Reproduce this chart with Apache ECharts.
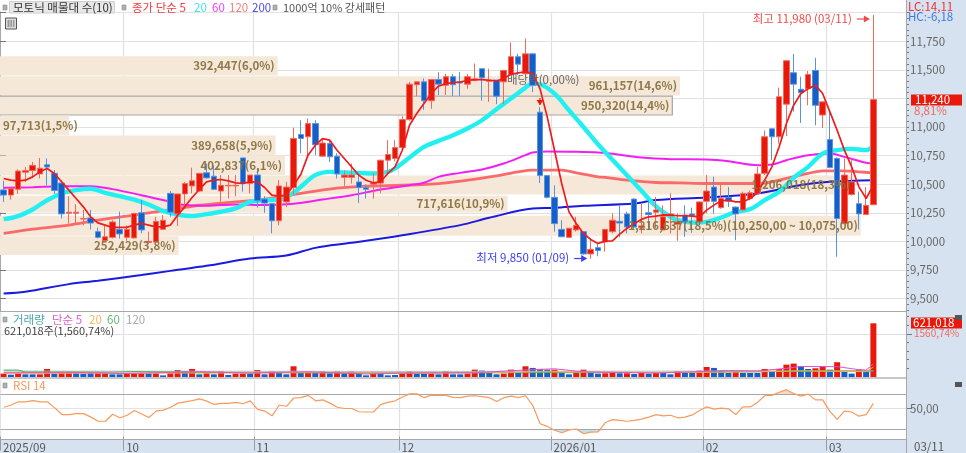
<!DOCTYPE html>
<html><head><meta charset="utf-8">
<style>html,body{margin:0;padding:0;background:#fff}#c{width:966px;height:453px}</style>
<script src="https://cdn.jsdelivr.net/npm/echarts@6/dist/echarts.min.js"></script>
</head><body><div id="c"></div>
<script>
const opens=[10450,10405,10455,10605,10620,10590,10670,10595,10510,10245,
10245,10195,10205,10085,10005,10035,10105,10035,10030,10250,
9990,9995,10105,10420,10240,10415,10485,10440,10600,10570,
10440,10485,10485,10730,10505,10580,10370,10330,10180,10345,
10470,10935,10915,11030,10745,10855,10745,10560,10560,10520,
10470,10500,10510,10710,10725,10820,11065,11370,11395,11230,
11415,11365,11440,11395,11375,11410,11510,11400,11410,11395,
11455,11615,11465,11640,11130,10575,10385,10105,10035,10100,
10085,9890,9945,9995,10085,10175,10240,10370,10120,10250,
10255,10100,10225,10150,10230,10240,10170,10350,10475,10295,
10385,10300,10275,10375,10420,10595,10985,10915,11200,11475,
11330,11335,11495,11105,10890,10725,10155,10410,10330,10235,10320];
const closes=[10405,10460,10615,10620,10665,10640,10650,10445,10240,10255,
10255,10200,10160,10035,10040,10170,10065,10105,10245,10100,
10000,10175,10185,10255,10415,10505,10530,10595,10555,10455,
10490,10490,10490,10505,10580,10355,10335,10180,10485,10475,
10900,10900,11030,10845,10860,10740,10590,10580,10580,10470,
10455,10510,10710,10760,10820,11065,11375,11395,11230,11415,
11375,11440,11370,11385,11440,11420,11430,11410,11270,11495,
11615,11550,11640,11365,10575,10385,10155,10040,10115,10140,
9890,9930,9920,10105,10185,10160,10125,10125,10135,10235,
10275,10215,10240,10170,10170,10225,10345,10440,10350,10375,
10350,10240,10420,10425,10590,10915,10915,11265,11580,11375,
11300,11460,11190,11220,10645,10200,10580,10520,10240,10315,11240];
const lows=[10345,10365,10415,10520,10565,10550,10490,10415,10200,10155,
10155,10140,10105,10025,10005,10025,10025,10005,10025,10070,
9980,9995,10100,10215,10135,10315,10420,10435,10550,10450,
10330,10375,10395,10435,10420,10295,10250,10070,10140,10300,
10405,10770,10740,10755,10740,10695,10550,10485,10505,10335,
10375,10375,10420,10580,10700,10815,11055,11270,11150,11160,
11280,11280,11270,11270,11335,11400,11230,11220,11200,11200,
11455,11455,11440,11305,10510,10375,10085,10040,10035,10085,
9885,9850,9870,9910,10070,10035,10070,10110,10070,10100,
10115,10100,10070,10005,10040,10075,10155,10245,10240,10285,
10300,10010,10270,10360,10410,10580,10710,10855,10920,11135,
11035,11190,11015,10990,10640,9865,10150,10400,10105,10230,10320];
const highs=[10530,10470,10630,10650,10695,10730,10725,10625,10535,10395,
10325,10275,10275,10120,10135,10185,10260,10140,10245,10365,
10085,10215,10230,10440,10415,10520,10645,10595,10680,10665,
10580,10580,10580,10730,10580,10625,10395,10330,10535,10520,
10995,11060,11075,11060,10895,10885,10770,10620,10680,10580,
10500,10595,10710,10885,10885,11095,11395,11400,11425,11415,
11480,11465,11465,11480,11465,11555,11510,11510,11410,11500,
11740,11640,11775,11645,11175,10575,10490,10185,10115,10215,
10090,10025,9985,10105,10245,10315,10260,10375,10330,10360,
10390,10315,10420,10245,10315,10295,10350,10580,10565,10510,
10475,10305,10435,10445,10650,10970,10985,11345,11580,11640,
11440,11490,11605,11220,11150,10735,10725,10710,10435,10475,11980];
const ma5=[10550,10535,10529,10535,10564,10608,10637,10594,10521,10448,10375,10302,10215,10162,10142,10122,10122,10122,10142,10157,10142,10127,10127,10142,10229,10302,10384,10454,10521,10535,10541,10529,10512,10506,10521,10521,10471,10404,10395,10404,10492,
10585,10754,10841,10899,10885,10797,10725,10652,10579,10535,10512,10521,10593,10652,10797,11016,11118,11205,11293,11357,11380,11389,11394,11409,11415,11415,11409,11403,11424,11461,11473,11482,11467,11336,11089,10797,10506,10258,10156,10069,10017,9982,
10002,10005,10063,10113,10157,10192,10215,10221,10232,10229,10224,10224,10221,10215,10273,10317,10355,10361,10346,10346,10375,10425,10535,10652,10827,11031,11191,11293,11336,11366,11293,11133,10972,10798,10652,10477,10375,10492];
const ma20=[[0,10194],[2,10221],[4,10279],[6,10360],[8,10419],[10,10448],[12,10460],[14,10425],[16,10395],[18,10366],[20,10323],[22,10267],[24,10235],[26,10221],[28,10238],[30,10259],[32,10288],[34,10346],[36,10360],[38,10366],[40,10425],[41,10477],[43,10579],[45,10608],[47,10602],[49,10599],[51,10593],[53,10608],[54,10637],[56,10733],[58,10826],[60,10879],[62,10928],[64,10987],[66,11059],[68,11156],[70,11249],[72,11345],[73,11380],[74,11374],[76,11292],[78,11147],[80,11000],[82,10850],[84,10714],[86,10578],[88,10442],[90,10306],[92,10215],[93,10186],[95,10165],[97,10171],[99,10209],[101,10259],[103,10282],[105,10361],[107,10433],[109,10556],[111,10652],[113,10768],[115,10798],[117,10809],[119,10798],[120,10833]];
const ma60=[[0,10468],[4,10474],[8,10483],[12,10483],[15,10457],[19,10404],[23,10346],[25,10317],[28,10311],[32,10323],[36,10317],[40,10330],[44,10366],[48,10404],[52,10453],[56,10491],[58,10512],[60,10564],[63,10599],[66,10628],[69,10681],[72,10754],[73,10777],[75,10786],[79,10783],[82,10777],[84,10766],[88,10733],[92,10719],[97,10716],[100,10701],[104,10666],[106,10672],[108,10710],[111,10754],[114,10768],[116,10739],[119,10687],[120,10681]];
const ma120=[[0,10069],[4,10107],[9,10142],[13,10185],[18,10229],[23,10278],[27,10316],[32,10345],[36,10369],[41,10420],[46,10465],[50,10483],[55,10491],[59,10500],[64,10535],[68,10573],[71,10608],[73,10623],[77,10623],[79,10599],[82,10564],[83,10559],[86,10535],[90,10515],[93,10512],[97,10506],[101,10506],[104,10506],[106,10521],[108,10550],[111,10594],[113,10617],[116,10617],[118,10608],[120,10599]];
const ma200=[[0,9544],[3,9559],[9,9626],[13,9655],[19,9705],[23,9742],[28,9786],[34,9850],[39,9876],[43,9943],[48,9987],[55,10054],[63,10142],[67,10206],[73,10287],[76,10293],[80,10311],[87,10331],[90,10361],[97,10384],[104,10419],[110,10492],[114,10521],[120,10535]];
const volumes=[39000,27000,43000,31000,31000,31000,93000,39000,50000,50000,54000,39000,47000,43000,43000,31000,31000,43000,43000,43000,43000,43000,19000,43000,81000,70000,93000,31000,43000,31000,66000,23000,39000,39000,39000,81000,31000,66000,47000,31000,124000,47000,47000,47000,
66000,43000,66000,43000,66000,43000,19000,39000,39000,19000,23000,39000,66000,39000,39000,39000,31000,70000,31000,31000,39000,85000,74000,47000,31000,39000,85000,47000,124000,105000,93000,85000,85000,47000,31000,47000,85000,47000,39000,43000,47000,43000,43000,35000,
47000,39000,47000,47000,31000,66000,47000,47000,74000,116000,105000,74000,47000,66000,47000,47000,47000,93000,66000,93000,143000,155000,124000,93000,101000,120000,85000,171000,62000,39000,85000,62000,621018];
const volUp=[1,0,1,0,0,1,1,0,1,1,0,0,0,1,1,0,0,1,1,1,0,1,0,1,1,0,1,0,1,0,1,0,1,1,0,1,0,1,0,0,1,0,1,0,
1,0,1,0,1,0,0,1,0,0,0,1,1,0,0,1,0,1,0,0,1,1,0,0,0,1,1,0,1,0,0,0,1,0,0,1,1,0,0,1,1,0,1,0,
1,0,1,0,0,1,0,0,1,1,0,0,0,1,0,0,0,1,0,1,1,1,0,0,1,1,0,1,0,0,1,0,1];
const volMa5=[[0,50000],[7,50000],[8,55000],[12,50000],[16,40000],[24,55000],[27,62000],[34,45000],[38,55000],[42,60000],[50,35000],[56,45000],[65,50000],[73,85000],[76,95000],[80,60000],[90,45000],[97,65000],[100,75000],[104,70000],[108,100000],[110,122000],[115,120000],[118,85000],[119,80000],[120,150000]];
const volMa20=[[0,42000],[30,46000],[40,50000],[60,45000],[75,60000],[90,52000],[100,55000],[110,70000],[119,62000],[120,115000]];
const volMa60=[[0,80000],[2,80000],[3,58000],[15,55000],[18,62000],[30,50000],[60,48000],[90,52000],[110,65000],[119,70000],[120,72000]];
const volMa120=[[0,68000],[60,65000],[120,70000]];
const rsi=[51.6,54.9,59.5,59.5,61.3,59.5,59.5,50.7,41,41,42.4,42.4,37.3,31.3,31.3,41.4,36.3,40,47,41.9,36.8,46,47.4,51.6,57.6,59.5,61.3,63.7,60.4,55.8,57.2,57.2,58.6,56.7,60.9,48.4,46,39.1,54.9,53,65,65.5,68.8,60.9,
62.3,57.6,51.6,49.8,49.8,45.1,44.7,44.7,55.3,58.6,60.9,66.4,71,71,65.5,69.2,68.8,68.8,66,65.5,67.8,68.3,66.9,65.5,60,65.5,67.8,65.5,68.3,53.9,27.6,23.8,18.3,14.6,18.8,20.1,13.2,15.5,16,29.4,33.6,32.6,31.3,32.6,
34.5,37.3,41,39.1,40,36.3,37.3,40.5,47,52.1,48.8,50.2,49.3,41,52.1,52.1,58.6,68.3,68.8,73.4,77.1,71.5,67.8,70.6,62.3,62.3,45.6,34,46,44.7,38.7,41,57.2];
// volume-profile bands: traded volume, price top, price bottom
const bandVolumes=[392447,961157,950320,97713,389658,402837,1206018,717616,1216637,252429];
const bandTops=[11620,11445,11270,11100,10925,10750,10575,10400,10225,10045];
const bandBottoms=[11450,11275,11105,10930,10755,10580,10410,10253,10050,9880];
const bandLabels=['392,447(6,0%)','961,157(14,6%)','950,320(14,4%)','97,713(1,5%)','389,658(5,9%)','402,837(6,1%)','1,206,018(18,3%)','717,616(10,9%)','1,216,637(18,5%)(10,250,00 ~ 10,075,00)','252,429(3,8%)'];
const monthStarts=[0,17,35,55,76,97,114];
const monthLabels=['2025/09','10','11','12','2026/01','02','03'];
const slotCount=125;
const priceTicks=[11750,11500,11000,10750,10500,10250,10000,9750,9500];
const annotations=[{i:120,price:11980,text:'최고 11,980 (03/11)',color:'#f24a4a'},{i:81,price:9850,text:'최저 9,850 (01/09)',color:'#3c3cf0'}];

const FONT='"Noto Sans CJK KR","Liberation Sans",sans-serif';
const RED='#e8190a',BLUE='#1560c8';
const categories=Array.from({length:slotCount},(_,k)=>{const m=monthStarts.indexOf(k);return m>=0?monthLabels[m]:'';});
const isMonth=(idx)=>monthStarts.indexOf(idx)>=0;
const range=(a,b,s)=>{const r=[];for(let v=a;v<=b;v+=s)r.push(v);return r;};
const MINP=9391,MAXP=12006;

function catAxis(gridIndex,show){return{type:'category',gridIndex,data:categories,boundaryGap:true,
 axisLine:{show:false},
 axisTick:show?{show:true,interval:isMonth,length:14,lineStyle:{color:'#9a9a9a'}}:{show:false},
 axisLabel:show?{show:true,interval:isMonth,align:'left',margin:1,padding:[4,0,0,-1],color:'#555',fontSize:11.5,fontFamily:FONT,hideOverlap:false,formatter:v=>v}:{show:false},
 splitLine:{show:true,interval:isMonth,lineStyle:{color:'#e2e2e2',width:1.2}}};}
function minorAxis(gridIndex,min,max,ticks){return{type:'value',gridIndex,position:'right',min,max,axisLine:{show:false},splitLine:{show:false},axisLabel:{show:false},
 axisTick:{show:true,length:3,customValues:ticks,lineStyle:{color:'#777'}}};}
function majorAxis(gridIndex,min,max,ticks,labels,fmt){return{type:'value',gridIndex,position:'right',min,max,
 axisLine:{show:true,lineStyle:{color:'#a8a8a8',width:1}},
 axisTick:{show:true,length:6,customValues:ticks,lineStyle:{color:'#777'}},
 axisLabel:{show:true,customValues:labels,margin:4,color:'#666',fontSize:11.5,fontFamily:FONT,formatter:fmt},
 splitLine:{show:true,customValues:ticks,lineStyle:{color:'#e2e2e2',width:1.2}}};}
function sparseLine(name,data,color,width,z){return{name,type:'line',xAxisIndex:0,yAxisIndex:0,data,symbol:'none',smooth:0.35,z,silent:true,lineStyle:{color,width},animation:false};}
function volLine(name,data,color){return{name,type:'line',xAxisIndex:1,yAxisIndex:2,data,symbol:'none',z:5,silent:true,lineStyle:{color,width:1},animation:false};}

function txt(x,y,text,fill,size,extra){return Object.assign({type:'text',x,y,z:50,silent:true,style:{text,fill,font:(size||11.5)+'px '+FONT,textVerticalAlign:'middle',textBaseline:'middle'}},extra||{});}
function sq(x,y){return{type:'rect',z:50,silent:true,shape:{x,y,width:4,height:5},style:{fill:'#b0b0b0',stroke:'#8a8a8a',lineWidth:.6}};}
function hline(y,w,c){return{type:'line',z:40,silent:true,shape:{x1:0,y1:y,x2:906,y2:y},style:{stroke:c||'#a8a8a8',lineWidth:w||1}};}

const graphic=[
 {type:'rect',z:-10,silent:true,shape:{x:906,y:0,width:60,height:453},style:{fill:'#d6e2f0'}},
 {type:'rect',z:-10,silent:true,shape:{x:0,y:439,width:966,height:14},style:{fill:'#d6e2f0'}},
 hline(311.5,1),hline(378,1.6,'#b4b4b4'),hline(439.5,1),
 {type:'line',z:40,silent:true,shape:{x1:906.5,y1:0,x2:906.5,y2:453},style:{stroke:'#a8a8a8',lineWidth:1}},
 sq(3,5),
 {type:'rect',z:49,silent:true,shape:{x:9.5,y:1.5,width:105,height:11.5},style:{fill:'#e8e8e8',stroke:'#d0d0d0',lineWidth:1}},
 txt(13,7.5,'모토닉 매물대 수(10)','#333',11.5),
 sq(122,5),
 txt(132,7.5,'종가 단순 5','#f23c3c',11.5),txt(194,7.5,'20','#3fe8f0',11.5),txt(212,7.5,'60','#f040f0',11.5),txt(229,7.5,'120','#f78080',11.5),txt(252,7.5,'200','#4848f0',11.5),
 sq(273,5),txt(283,7.5,'1000억 10% 강세패턴','#555',11),
 {type:'rect',z:50,silent:true,shape:{x:5.5,y:18,width:11,height:11},style:{fill:'#ddd',stroke:'#555',lineWidth:1}},
 {type:'rect',z:50,silent:true,shape:{x:7.5,y:20,width:7,height:7},style:{fill:'#999'}},
 {type:'line',z:51,silent:true,shape:{x1:10,y1:20,x2:10,y2:27},style:{stroke:'#eee',lineWidth:.7}},
 {type:'line',z:51,silent:true,shape:{x1:12.5,y1:20,x2:12.5,y2:27},style:{stroke:'#eee',lineWidth:.7}},
 sq(3,317),txt(13,319.5,'거래량','#4aa8a8',11.5),txt(52,319.5,'단순 5','#e060d0',11.5),txt(89,319.5,'20','#f4b860',11.5),txt(107,319.5,'60','#60b878',11.5),txt(126,319.5,'120','#a8a8a8',11.5),
 txt(4,331,'621,018주(1,560,74%)','#444',11),
 sq(3,383),txt(13,386,'RSI 14','#f79a5c',11.5),
 txt(908,7,'LC:14,11','#f03030',11.5),txt(908,17,'HC:-6,18','#3b7be0',11.5),
 {type:'rect',z:48,silent:true,shape:{x:911,y:94.5,width:51,height:11},style:{fill:'#e8190a'}},
 txt(915,100,'11,240','#fff',11.5),txt(914,110.5,'8,81%','#f06a60',11.5),
 {type:'rect',z:48,silent:true,shape:{x:911,y:317.5,width:51,height:11},style:{fill:'#e8190a'}},
 txt(913,323,'621,018','#fff',11.5),txt(914,333.5,'1560,74%','#f06a60',10),
 {type:'rect',z:49,silent:true,shape:{x:955,y:315,width:7,height:5},style:{fill:'#555'}},
 {type:'rect',z:49,silent:true,shape:{x:955,y:382,width:7,height:5},style:{fill:'#555'}},
 txt(914,446.5,'03/11','#555',11.5)
];

const option={
 animation:false,backgroundColor:'#fff',graphic,
 grid:[{left:0,right:60,top:12,height:299},{left:0,right:60,top:312,height:65},{left:0,right:60,top:380,height:59}],
 xAxis:[catAxis(0,false),catAxis(1,false),catAxis(2,true),
  {type:'value',gridIndex:0,min:0,max:1280600,show:false}],
 yAxis:[
  majorAxis(0,MINP,MAXP,range(9500,12000,250),priceTicks,v=>v.toLocaleString('en-US')),
  minorAxis(0,MINP,MAXP,range(9400,12000,50)),
  majorAxis(1,0,752000,[500000],[],v=>''),
  minorAxis(1,0,752000,range(100000,700000,100000)),
  majorAxis(2,9.2,91.1,[50],[50],v=>'50,00')
 ],
 series:[
  {type:'custom',name:'bands',xAxisIndex:3,yAxisIndex:0,z:2,silent:true,clip:false,
   data:bandVolumes.map((v,k)=>[v,bandTops[k],bandBottoms[k]]),
   encode:{x:0,y:[1,2]},
   renderItem(p,api){const a=api.coord([0,api.value(1)]),b=api.coord([api.value(0),api.value(2)]);
    const boxed=p.dataIndex===2;
    return{type:'rect',shape:{x:a[0]-(boxed?2:0),y:a[1],width:b[0]-a[0]+(boxed?2:0),height:b[1]-a[1]},style:{fill:'#f5e8d8',stroke:boxed?'#a6a6a6':null,lineWidth:boxed?1.2:0}};}},
  sparseLine('MA200',ma200,'#1a1ae0',2,3),
  sparseLine('MA120',ma120,'#fa6a6a',2.8,3),
  sparseLine('MA60',ma60,'#f020f0',2,3),
  sparseLine('MA20',ma20,'#22f0f0',4.4,3),
  {type:'candlestick',name:'price',xAxisIndex:0,yAxisIndex:0,z:4,silent:true,barWidth:6,
   data:opens.map((o,k)=>[o,closes[k],lows[k],highs[k]]),
   itemStyle:{color:RED,color0:BLUE,borderColor:'#f2695e',borderColor0:'#5a92e0',borderWidth:1}},
  {type:'line',name:'MA5',xAxisIndex:0,yAxisIndex:0,z:5,silent:true,data:ma5,symbol:'none',lineStyle:{color:'#ee1c1c',width:1.7}},
  {type:'custom',name:'bandLabels',xAxisIndex:3,yAxisIndex:0,z:6,silent:true,clip:false,
   data:bandVolumes.map((v,k)=>[v,bandTops[k],bandBottoms[k]]),
   encode:{x:0,y:[1,2]},
   renderItem(p,api){const b=api.coord([api.value(0),(api.value(1)+api.value(2))/2]);const narrow=b[0]<90;
    return{type:'text',x:narrow?3:b[0]-3,y:b[1],style:{text:bandLabels[p.dataIndex],fill:'#8a7240',font:'bold 11.5px '+FONT,textAlign:narrow?'left':'right',textVerticalAlign:'middle',opacity:.95}};}},
  {type:'custom',name:'annotations',xAxisIndex:0,yAxisIndex:0,z:7,silent:true,clip:false,
   data:annotations.map(a=>[a.i,a.price]),encode:{x:0,y:1},
   renderItem(p,api){const a=annotations[p.dataIndex];const c=api.coord([api.value(0),api.value(1)]);
    const y=Math.max(c[1],19),tip=c[0]-3.5;
    return{type:'group',children:[
     {type:'line',shape:{x1:tip-13,y1:y,x2:tip-3,y2:y},style:{stroke:a.color,lineWidth:1.2}},
     {type:'polygon',shape:{points:[[tip,y],[tip-6,y-3.5],[tip-6,y+3.5]]},style:{fill:a.color}},
     {type:'text',x:tip-18,y:y-.5,style:{text:a.text,fill:a.color,font:'11.5px '+FONT,textAlign:'right',textVerticalAlign:'middle'}}]};}},
  {type:'custom',name:'dividend',xAxisIndex:0,yAxisIndex:0,z:7,silent:true,clip:false,
   data:[[74,11175]],encode:{x:0,y:1},
   renderItem(p,api){const c=api.coord([api.value(0),api.value(1)]);
    return{type:'group',children:[
     {type:'text',x:c[0]-33,y:80,style:{text:'배당락(0,00%)',fill:'#666',font:'11.5px '+FONT,textVerticalAlign:'middle'}},
     {type:'line',shape:{x1:c[0],y1:c[1]-9,x2:c[0],y2:c[1]-2},style:{stroke:'#e8190a',lineWidth:1.2}},
     {type:'polygon',shape:{points:[[c[0],c[1]-2],[c[0]-3.5,c[1]-7],[c[0]+3.5,c[1]-7]]},style:{fill:'#e8190a'}}]};}},
  {type:'bar',name:'volume',xAxisIndex:1,yAxisIndex:2,z:3,silent:true,barWidth:6,
   data:volumes.map((v,k)=>({value:v,itemStyle:{color:volUp[k]?RED:BLUE}}))},
  volLine('vMA120',volMa120,'#b8b8b8'),volLine('vMA60',volMa60,'#40a860'),volLine('vMA20',volMa20,'#f0b040'),volLine('vMA5',volMa5,'#e050d0'),
  {type:'line',name:'rsiHigh',xAxisIndex:2,yAxisIndex:4,z:2,silent:true,symbol:'none',data:rsi.map(v=>Math.max(v,70)),lineStyle:{width:0},areaStyle:{origin:70,color:'#f8c8a8'}},
  {type:'line',name:'rsiLow',xAxisIndex:2,yAxisIndex:4,z:2,silent:true,symbol:'none',data:rsi.map(v=>Math.min(v,20)),lineStyle:{width:0},areaStyle:{origin:20,color:'#a8d4e6'}},
  {type:'line',name:'RSI',xAxisIndex:2,yAxisIndex:4,z:4,silent:true,symbol:'none',data:rsi,lineStyle:{color:'#f79a5c',width:1.2},
   markLine:{silent:true,symbol:'none',label:{show:false},data:[{yAxis:70},{yAxis:20}],lineStyle:{color:'#a8a8a8',width:1.2,type:'solid'},z:3}}
 ]
};
echarts.init(document.getElementById('c')).setOption(option);
</script></body></html>
